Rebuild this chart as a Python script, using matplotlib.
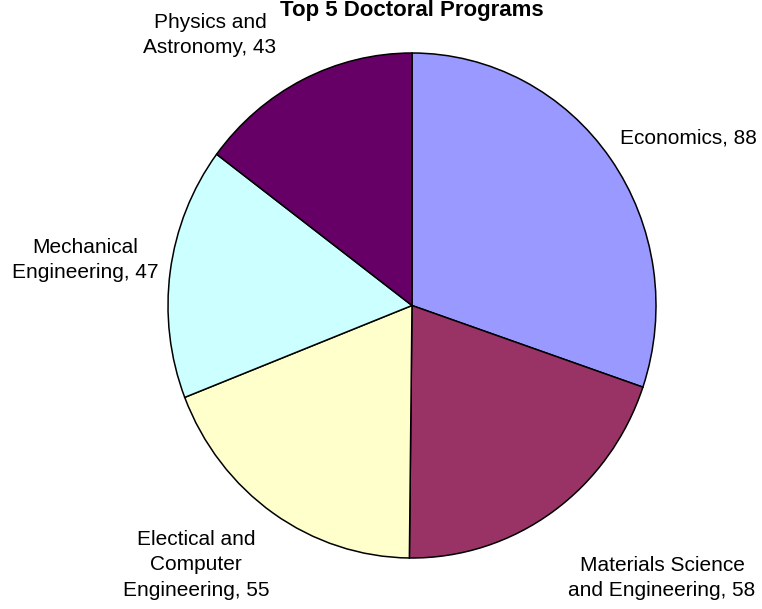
import matplotlib.pyplot as plt

plt.rcParams['font.family'] = ['Liberation Sans', 'DejaVu Sans']

# data
programs = ["Economics", "Materials Science\nand Engineering", "Electical and\nComputer\nEngineering",
            "Mechanical\nEngineering", "Physics and\nAstronomy"]
counts = [88, 58, 55, 47, 43]
colors = ["#9999FF", "#993366", "#FFFFCC", "#CCFFFF", "#660066"]

# label centres in pixels (x, y from top)
label_px = [(688, 138), (662, 578), (196, 565), (85, 260), (210, 35)]

W, H = 762, 609
fig = plt.figure(figsize=(W / 100, H / 100), dpi=100)

# pie is slightly taller than wide, like the original
cx, cy, rx, ry = 412, 305.5, 244, 252.5
ax = fig.add_axes([(cx - rx) / W, (H - cy - ry) / H, 2 * rx / W, 2 * ry / H])
ax.pie(counts, colors=colors, startangle=90, counterclock=False,
       wedgeprops=dict(edgecolor="black", linewidth=1.1))
ax.set_aspect("auto")
ax.set_xlim(-1, 1)
ax.set_ylim(-1, 1)
ax.axis("off")

for name, n, (x, y) in zip(programs, counts, label_px):
    fig.text(x / W, 1 - y / H, f"{name}, {n}", ha="center", va="center",
             fontsize=15, multialignment="center", linespacing=1.45)

fig.text(411.5 / W, 1 - 16 / H, "Top 5 Doctoral Programs", ha="center", va="baseline",
         fontsize=16, fontweight="bold")

fig.savefig("out.png", dpi=100)
